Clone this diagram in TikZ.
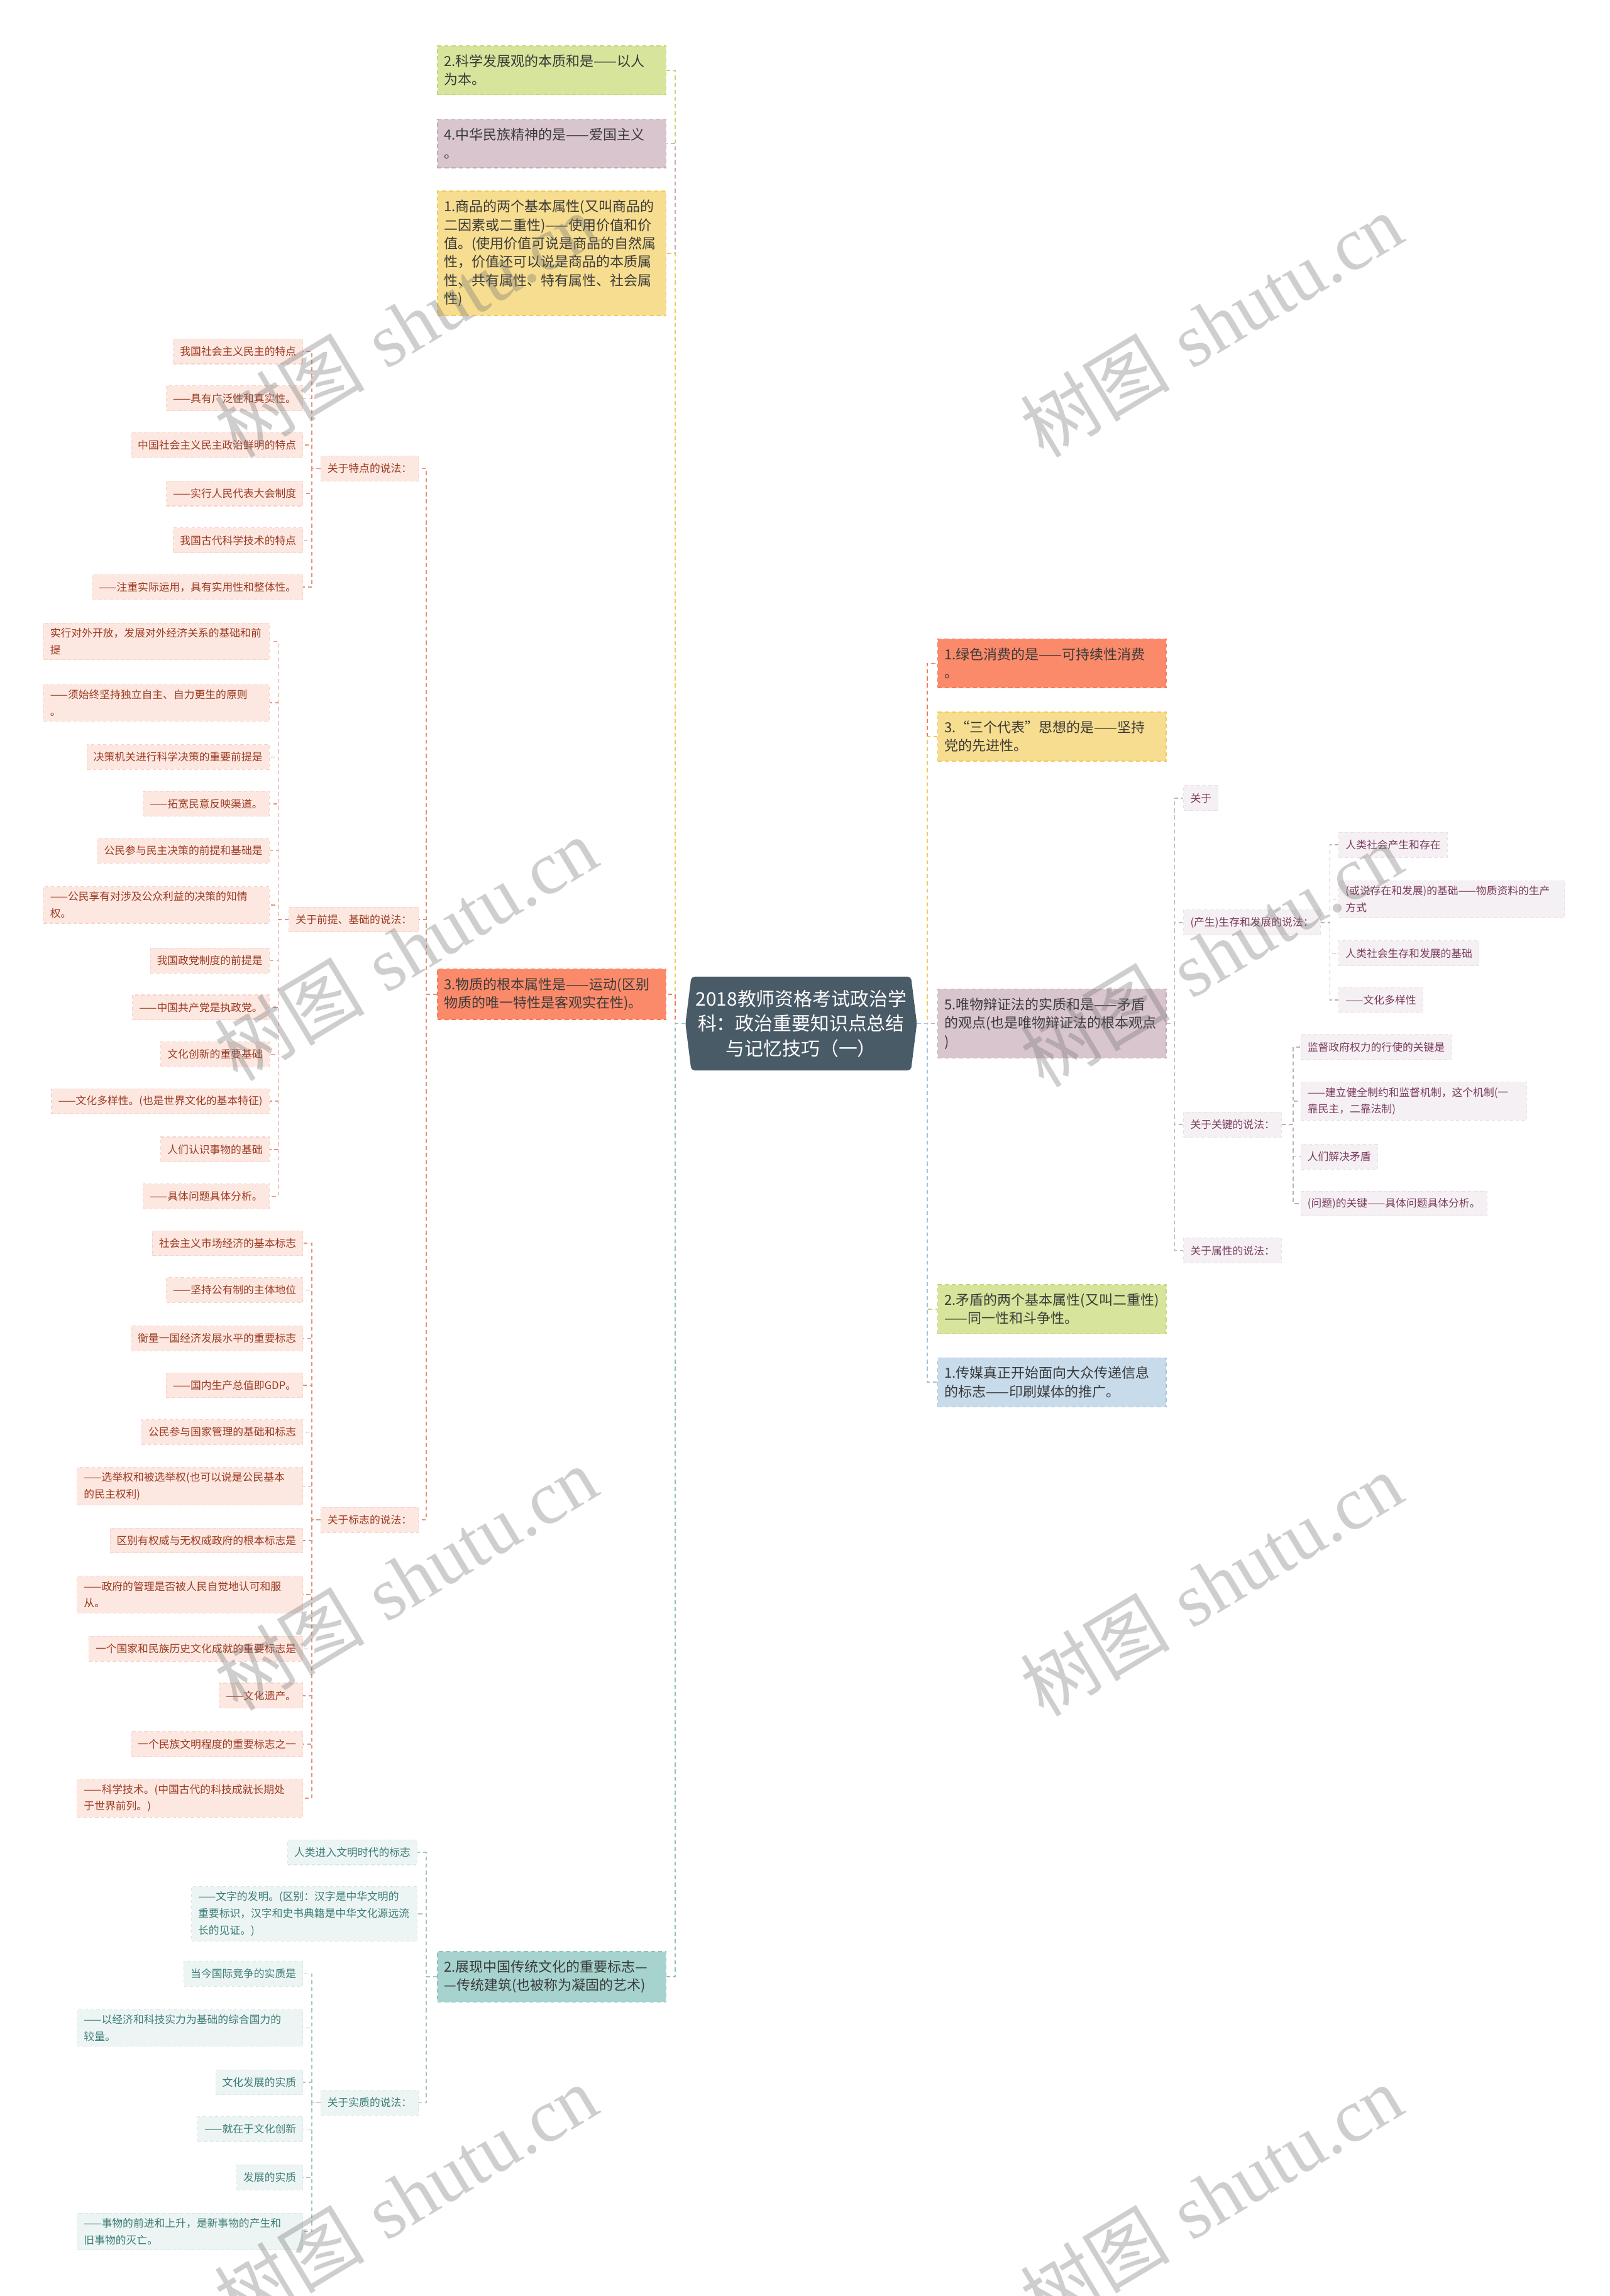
\documentclass[tikz,border=0pt]{standalone}
\usepackage{fontspec}
\newfontfamily\cjk{Noto Sans CJK SC}
\newfontfamily\wmserif{Liberation Serif}
\definecolor{cG}{HTML}{D7E59C}
\definecolor{cM}{HTML}{D9C5CE}
\definecolor{cY}{HTML}{F7DD8F}
\definecolor{cO}{HTML}{FB8A6A}
\definecolor{cT}{HTML}{A6D3CE}
\definecolor{cB}{HTML}{C7DBEB}
\definecolor{lG}{HTML}{C5D67B}
\definecolor{lM}{HTML}{C4A9B6}
\definecolor{lY}{HTML}{EFCB5E}
\definecolor{lO}{HTML}{F27B57}
\definecolor{lT}{HTML}{8DC2BC}
\definecolor{lB}{HTML}{A3C2DE}
\definecolor{oF}{HTML}{FDE8E1}
\definecolor{oT}{HTML}{9C3A22}
\definecolor{oD}{HTML}{F6D2C7}
\definecolor{oL}{HTML}{E2937B}
\definecolor{tF}{HTML}{EDF5F4}
\definecolor{tT}{HTML}{3A7C75}
\definecolor{tD}{HTML}{D8E8E6}
\definecolor{tL}{HTML}{A5C4C0}
\definecolor{mF}{HTML}{F5F0F3}
\definecolor{mT}{HTML}{7A3B5C}
\definecolor{mD}{HTML}{E9DFE4}
\definecolor{mL}{HTML}{BDB0B7}
\definecolor{rootC}{HTML}{4A5B68}
\definecolor{mainT}{HTML}{3A3A3A}
\tikzset{
 conn/.style={line width=0.45pt, dash pattern=on 1.8pt off 1.4pt},
 mainbox/.style={rectangle, line width=0.4pt, dash pattern=on 1.8pt off 1.4pt, text width=97.4pt, inner xsep=3pt, inner ysep=4pt, align=left, font=\cjk\fontsize{6.26}{8.35}\selectfont, text=mainT},
 leaf/.style={rectangle, line width=0.3pt, dash pattern=on 1.5pt off 1.2pt, inner xsep=3pt, inner ysep=2.3pt, minimum height=11.3pt, align=left, font=\cjk\fontsize{4.78}{7.56}\selectfont},
 twoln/.style={text width=96.1pt},
 lo/.style={leaf, fill=oF, draw=oD, text=oT},
 lt/.style={leaf, fill=tF, draw=tD, text=tT},
 lm/.style={leaf, fill=mF, draw=mD, text=mT},
 rootnode/.style={rectangle, minimum width=99.4pt, minimum height=42.4pt, inner sep=0pt, align=center, text=white, font=\cjk\fontsize{8.5}{11.27}\selectfont},
 wm/.style={text=black!55, text opacity=0.35, rotate=31, inner sep=0pt, font=\fontsize{34}{40}\selectfont}
}
\begin{document}
\begin{tikzpicture}[x=0.023294cm,y=-0.023294cm]
\useasboundingbox (0,0) rectangle (1099,1568);
\fill[white] (0,0) rectangle (1099,1568);

% root
\coordinate (rootL) at (468,699);
\coordinate (rootR) at (626,699);
\fill[rootC, rounded corners=1.5pt] (472,667) -- (622,667) -- (rootR) -- (622,731) -- (472,731) -- (rootL) -- cycle;
\node[rootnode] (root) at (547,699) {2018教师资格考试政治学\\科：政治重要知识点总结\\与记忆技巧（一）};

% trunk coordinates
\coordinate (tL) at (461,699);
\coordinate (tR) at (633,699);
\coordinate (tL4) at (291,679);
\coordinate (tL5) at (291,1350);
\coordinate (tA) at (213,320);
\coordinate (tB) at (190,628);
\coordinate (tC) at (213,1038);
\coordinate (tS) at (213,1436);
\coordinate (tR3) at (802,699);
\coordinate (tP) at (908,630);
\coordinate (tK) at (883,768);

% left main
\node[mainbox, fill=cG, draw=lG, anchor=east] (L1) at (455,48) {2.科学发展观的本质和是——以人\\为本。};
\node[mainbox, fill=cM, draw=lM, anchor=east] (L2) at (455,98) {4.中华民族精神的是——爱国主义\\。};
\node[mainbox, fill=cY, draw=lY, anchor=east] (L3) at (455,173) {1.商品的两个基本属性(又叫商品的\\二因素或二重性)——使用价值和价\\值。(使用价值可说是商品的自然属\\性，价值还可以说是商品的本质属\\性、共有属性、特有属性、社会属\\性)};
\node[mainbox, fill=cO, draw=lO, anchor=east] (L4) at (455,679) {3.物质的根本属性是——运动(区别\\物质的唯一特性是客观实在性)。};
\node[mainbox, fill=cT, draw=lT, anchor=east] (L5) at (455,1350) {2.展现中国传统文化的重要标志—\\—传统建筑(也被称为凝固的艺术)};

% right main
\node[mainbox, fill=cO, draw=lO, anchor=west] (R1) at (640,453) {1.绿色消费的是——可持续性消费\\。};
\node[mainbox, fill=cY, draw=lY, anchor=west] (R2) at (640,503) {3.“三个代表”思想的是——坚持\\党的先进性。};
\node[mainbox, fill=cM, draw=lM, anchor=west] (R3) at (640,699) {5.唯物辩证法的实质和是——矛盾\\的观点(也是唯物辩证法的根本观点\\)};
\node[mainbox, fill=cG, draw=lG, anchor=west] (R4) at (640,894) {2.矛盾的两个基本属性(又叫二重性)\\——同一性和斗争性。};
\node[mainbox, fill=cB, draw=lB, anchor=west] (R5) at (640,944) {1.传媒真正开始面向大众传递信息\\的标志——印刷媒体的推广。};

% root connectors
\draw[conn, draw=lG] (rootL) -- (tL) |- (L1.east);
\draw[conn, draw=lM] (rootL) -- (tL) |- (L2.east);
\draw[conn, draw=lY] (rootL) -- (tL) |- (L3.east);
\draw[conn, draw=lO] (rootL) -- (tL) |- (L4.east);
\draw[conn, draw=lT] (rootL) -- (tL) |- (L5.east);
\draw[conn, draw=lO] (rootR) -- (tR) |- (R1.west);
\draw[conn, draw=lY] (rootR) -- (tR) |- (R2.west);
\draw[conn, draw=lM] (rootR) -- (tR) |- (R3.west);
\draw[conn, draw=lG] (rootR) -- (tR) |- (R4.west);
\draw[conn, draw=lB] (rootR) -- (tR) |- (R5.west);

% L4 sub-branches
\node[lo, anchor=east] (A) at (286,320) {关于特点的说法：};
\node[lo, anchor=east] (B) at (286,628) {关于前提、基础的说法：};
\node[lo, anchor=east] (C) at (286,1038) {关于标志的说法：};
\foreach \n in {A,B,C} \draw[conn, draw=oL] (L4.west) -- (tL4) |- (\n.east);

% group A
\node[lo, anchor=east] (a1) at (207,240) {我国社会主义民主的特点};
\node[lo, anchor=east] (a2) at (207,272) {——具有广泛性和真实性。};
\node[lo, anchor=east] (a3) at (207,304) {中国社会主义民主政治鲜明的特点};
\node[lo, anchor=east] (a4) at (207,337) {——实行人民代表大会制度};
\node[lo, anchor=east] (a5) at (207,369) {我国古代科学技术的特点};
\node[lo, anchor=east] (a6) at (207,401) {——注重实际运用，具有实用性和整体性。};
\foreach \n in {a1,a2,a3,a4,a5,a6} \draw[conn, draw=oL] (A.west) -- (A.west -| tA) |- (\n.east);

% group B
\node[lo, twoln, anchor=east] (b1) at (184,438) {实行对外开放，发展对外经济关系的基础和前\\提};
\node[lo, twoln, anchor=east] (b2) at (184,480) {——须始终坚持独立自主、自力更生的原则\\。};
\node[lo, anchor=east] (b3) at (184,517) {决策机关进行科学决策的重要前提是};
\node[lo, anchor=east] (b4) at (184,549) {——拓宽民意反映渠道。};
\node[lo, anchor=east] (b5) at (184,581) {公民参与民主决策的前提和基础是};
\node[lo, twoln, anchor=east] (b6) at (184,618) {——公民享有对涉及公众利益的决策的知情\\权。};
\node[lo, anchor=east] (b7) at (184,656) {我国政党制度的前提是};
\node[lo, anchor=east] (b8) at (184,688) {——中国共产党是执政党。};
\node[lo, anchor=east] (b9) at (184,720) {文化创新的重要基础};
\node[lo, anchor=east] (b10) at (184,752) {——文化多样性。(也是世界文化的基本特征)};
\node[lo, anchor=east] (b11) at (184,785) {人们认识事物的基础};
\node[lo, anchor=east] (b12) at (184,817) {——具体问题具体分析。};
\foreach \n in {b1,b2,b3,b4,b5,b6,b7,b8,b9,b10,b11,b12} \draw[conn, draw=oL] (B.west) -- (B.west -| tB) |- (\n.east);

% group C
\node[lo, anchor=east] (c1) at (207,849) {社会主义市场经济的基本标志};
\node[lo, anchor=east] (c2) at (207,881) {——坚持公有制的主体地位};
\node[lo, anchor=east] (c3) at (207,914) {衡量一国经济发展水平的重要标志};
\node[lo, anchor=east] (c4) at (207,946) {——国内生产总值即GDP。};
\node[lo, anchor=east] (c5) at (207,978) {公民参与国家管理的基础和标志};
\node[lo, twoln, anchor=east] (c6) at (207,1015) {——选举权和被选举权(也可以说是公民基本\\的民主权利)};
\node[lo, anchor=east] (c7) at (207,1052) {区别有权威与无权威政府的根本标志是};
\node[lo, twoln, anchor=east] (c8) at (207,1089) {——政府的管理是否被人民自觉地认可和服\\从。};
\node[lo, anchor=east] (c9) at (207,1126) {一个国家和民族历史文化成就的重要标志是};
\node[lo, anchor=east] (c10) at (207,1158) {——文化遗产。};
\node[lo, anchor=east] (c11) at (207,1191) {一个民族文明程度的重要标志之一};
\node[lo, twoln, anchor=east] (c12) at (207,1228) {——科学技术。(中国古代的科技成就长期处\\于世界前列。)};
\foreach \n in {c1,c2,c3,c4,c5,c6,c7,c8,c9,c10,c11,c12} \draw[conn, draw=oL] (C.west) -- (C.west -| tC) |- (\n.east);

% L5 sub-branches
\node[lt, anchor=east] (s1) at (285,1265) {人类进入文明时代的标志};
\node[lt, twoln, anchor=east] (s2) at (285,1307) {——文字的发明。(区别：汉字是中华文明的\\重要标识，汉字和史书典籍是中华文化源远流\\长的见证。)};
\node[lt, anchor=east] (S) at (286,1436) {关于实质的说法：};
\foreach \n in {s1,s2,S} \draw[conn, draw=tL] (L5.west) -- (tL5) |- (\n.east);

\node[lt, anchor=east] (t1) at (207,1348) {当今国际竞争的实质是};
\node[lt, twoln, anchor=east] (t2) at (207,1385) {——以经济和科技实力为基础的综合国力的\\较量。};
\node[lt, anchor=east] (t3) at (207,1422) {文化发展的实质};
\node[lt, anchor=east] (t4) at (207,1454) {——就在于文化创新};
\node[lt, anchor=east] (t5) at (207,1487) {发展的实质};
\node[lt, twoln, anchor=east] (t6) at (207,1524) {——事物的前进和上升，是新事物的产生和\\旧事物的灭亡。};
\foreach \n in {t1,t2,t3,t4,t5,t6} \draw[conn, draw=tL] (S.west) -- (S.west -| tS) |- (\n.east);

% R3 sub-branches
\node[lm, anchor=west] (m1) at (808,545) {关于};
\node[lm, anchor=west] (P) at (808,630) {(产生)生存和发展的说法：};
\node[lm, anchor=west] (K) at (808,768) {关于关键的说法：};
\node[lm, anchor=west] (m4) at (808,854) {关于属性的说法：};
\foreach \n in {m1,P,K,m4} \draw[conn, draw=mL] (R3.east) -- (tR3) |- (\n.west);

\node[lm, anchor=west] (p1) at (914,577) {人类社会产生和存在};
\node[lm, twoln, anchor=west] (p2) at (914,614) {(或说存在和发展)的基础——物质资料的生产\\方式};
\node[lm, anchor=west] (p3) at (914,651) {人类社会生存和发展的基础};
\node[lm, anchor=west] (p4) at (914,683) {——文化多样性};
\foreach \n in {p1,p2,p3,p4} \draw[conn, draw=mL] (P.east) -- (P.east -| tP) |- (\n.west);

\node[lm, anchor=west] (k1) at (888,715) {监督政府权力的行使的关键是};
\node[lm, twoln, anchor=west] (k2) at (888,752) {——建立健全制约和监督机制，这个机制(一\\靠民主，二靠法制)};
\node[lm, anchor=west] (k3) at (888,790) {人们解决矛盾};
\node[lm, anchor=west] (k4) at (888,822) {(问题)的关键——具体问题具体分析。};
\foreach \n in {k1,k2,k3,k4} \draw[conn, draw=mL] (K.east) -- (K.east -| tK) |- (\n.west);

% watermarks
\node[wm] (w1) at (277,222) {{\cjk 树图} {\wmserif shutu.cn}};
\node[wm] (w2) at (827,222) {{\cjk 树图} {\wmserif shutu.cn}};
\node[wm] (w3) at (277,648) {{\cjk 树图} {\wmserif shutu.cn}};
\node[wm] (w4) at (827,652) {{\cjk 树图} {\wmserif shutu.cn}};
\node[wm] (w5) at (277,1078) {{\cjk 树图} {\wmserif shutu.cn}};
\node[wm] (w6) at (827,1082) {{\cjk 树图} {\wmserif shutu.cn}};
\node[wm] (w7) at (277,1500) {{\cjk 树图} {\wmserif shutu.cn}};
\node[wm] (w8) at (827,1500) {{\cjk 树图} {\wmserif shutu.cn}};
\end{tikzpicture}
\end{document}
